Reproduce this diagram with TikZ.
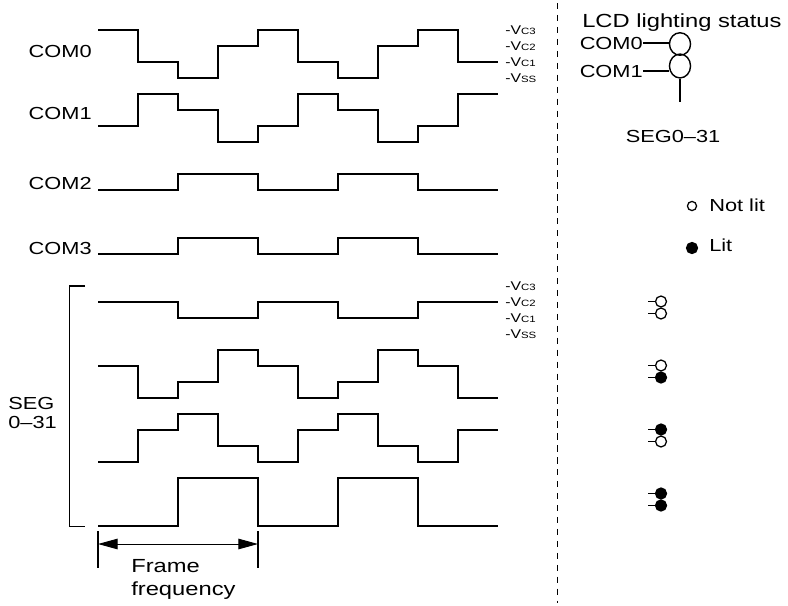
\documentclass[tikz,border=0pt]{standalone}
\usepackage{fontspec}
\setmainfont{Liberation Sans}[FakeStretch=1.25]
\usetikzlibrary{arrows.meta, positioning, shapes.geometric}
\tikzset{
    wave/.style={line width=1.2pt, line join=miter},
    lbl/.style={inner sep=0pt, font=\fontsize{12.4}{13.8}\selectfont},
    big/.style={inner sep=0pt, font=\fontsize{13.5}{16.4}\selectfont},
    lvl/.style={inner sep=0pt, anchor=west, font=\fontsize{9}{10}\selectfont},
    lamp/.style={draw, ellipse, line width=1pt, inner sep=0pt, minimum width=15pt},
    segdot/.style={draw, circle, line width=0.9pt, inner sep=0pt, minimum size=7.8pt},
    thinline/.style={line width=0.8pt},
    divider/.style={line width=0.7pt, dash pattern=on 4.5pt off 4pt},
    span/.style={line width=0.7pt, {Triangle[length=14pt, width=7.5pt]}-{Triangle[length=14pt, width=7.5pt]}}
}
\newcommand{\volt}[1]{-V{\fontsize{6.5}{7}\selectfont #1}}
\begin{document}
\begin{tikzpicture}[x=0.025cm, y=-0.025cm]
    \useasboundingbox (0,0) rectangle (788,605);
    \def\xs{98}   % start of the waveforms
    \def\dx{40}   % one time slot
    \def\dv{16}   % one voltage step
    % waveforms: Vss line, first level, level of each slot
    \foreach \base/\st/\lvs in {
        78/3/{3,1,0,2,3,1,0,2,3,1},
        142/1/{1,3,2,0,1,3,2,0,1,3},
        206/1/{1,1,2,2,1,1,2,2,1,1},
        270/1/{1,1,2,2,1,1,2,2,1,1},
        334/2/{2,2,1,1,2,2,1,1,2,2},
        398/2/{2,0,1,3,2,0,1,3,2,0},
        462/0/{0,2,3,1,0,2,3,1,0,2},
        526/0/{0,0,3,3,0,0,3,3,0,0}}
        \draw[wave] (\xs,\base-\dv*\st) foreach \lev [count=\i from 0] in \lvs
            { -- ({\xs+\dx*\i},{\base-\dv*\lev}) -- ({\xs+\dx*(\i+1)},{\base-\dv*\lev}) };
    % common names
    \foreach \n/\y in {0/51, 1/113, 2/183, 3/248}
        \node[lbl, anchor=east] (com\n) at (92,\y) {COM\n};
    % voltage levels
    \foreach \base/\g in {78/c, 334/s}
        \foreach \n/\t in {3/C3, 2/C2, 1/C1, 0/SS}
            \node[lvl] (v\g\n) at (505,\base-\dv*\n) {\volt{\t}};
    % segment bracket
    \draw[wave] (85,286) -| (69.5,526.5) -- (85,526.5);
    \node[lbl, align=left, anchor=north west] (seglbl) at (8,397) {SEG\\0--31};
    % frame frequency
    \coordinate (ffa) at (98,531);
    \coordinate (ffb) at (258,531);
    \draw[thinline] (ffa) -- ++(0,37);
    \draw[thinline] (ffb) -- ++(0,37);
    \draw[span] ([yshift=-13*0.025cm]ffa) -- ([yshift=-13*0.025cm]ffb);
    \node[big, align=left, anchor=north west] (frame) at (131,559) {Frame\\frequency};
    % divider
    \draw[divider] (557,3) -- (557,603);
    % lighting status
    \node[big, anchor=base west] (status) at (582,27) {LCD lighting status};
    \node[lamp, minimum height=16pt] (e0) at (680,44) {};
    \node[lamp, minimum height=17pt] (e1) at (680,66) {};
    \node[lbl, anchor=east] (l0) at (643,43) {COM0};
    \node[lbl, anchor=east] (l1) at (643,71) {COM1};
    \draw[thinline] (l0.east) -- (l0.east -| e0.west);
    \draw[thinline] (l1.east) -- (l1.east -| e1.west);
    \coordinate (segtail) at (680,102);
    \draw[thinline] (e1.south) -- (segtail);
    \node[lbl] (seg) at (673,136) {SEG0--31};
    % legend
    \node[segdot, minimum size=6.5pt, fill=white] (unlit) at (692,206) {};
    \node[lbl, anchor=base west] (unlittxt) at (709,211) {Not lit};
    \node[segdot, fill=black] (lit) at (692,248) {};
    \node[lbl, anchor=base west] (littxt) at (709,251) {Lit};
    % status of each segment waveform
    \foreach \k/\ca/\cb in {0/white/white, 1/white/black, 2/black/white, 3/black/black} {
        \node[segdot, fill=\ca] (sa\k) at (661,301.5+64*\k) {};
        \node[segdot, fill=\cb] (sb\k) at (661,313.5+64*\k) {};
        \draw[thinline] (sa\k.west) -- ++(-7,0);
        \draw[thinline] (sb\k.west) -- ++(-7,0);
    }
\end{tikzpicture}
\end{document}
